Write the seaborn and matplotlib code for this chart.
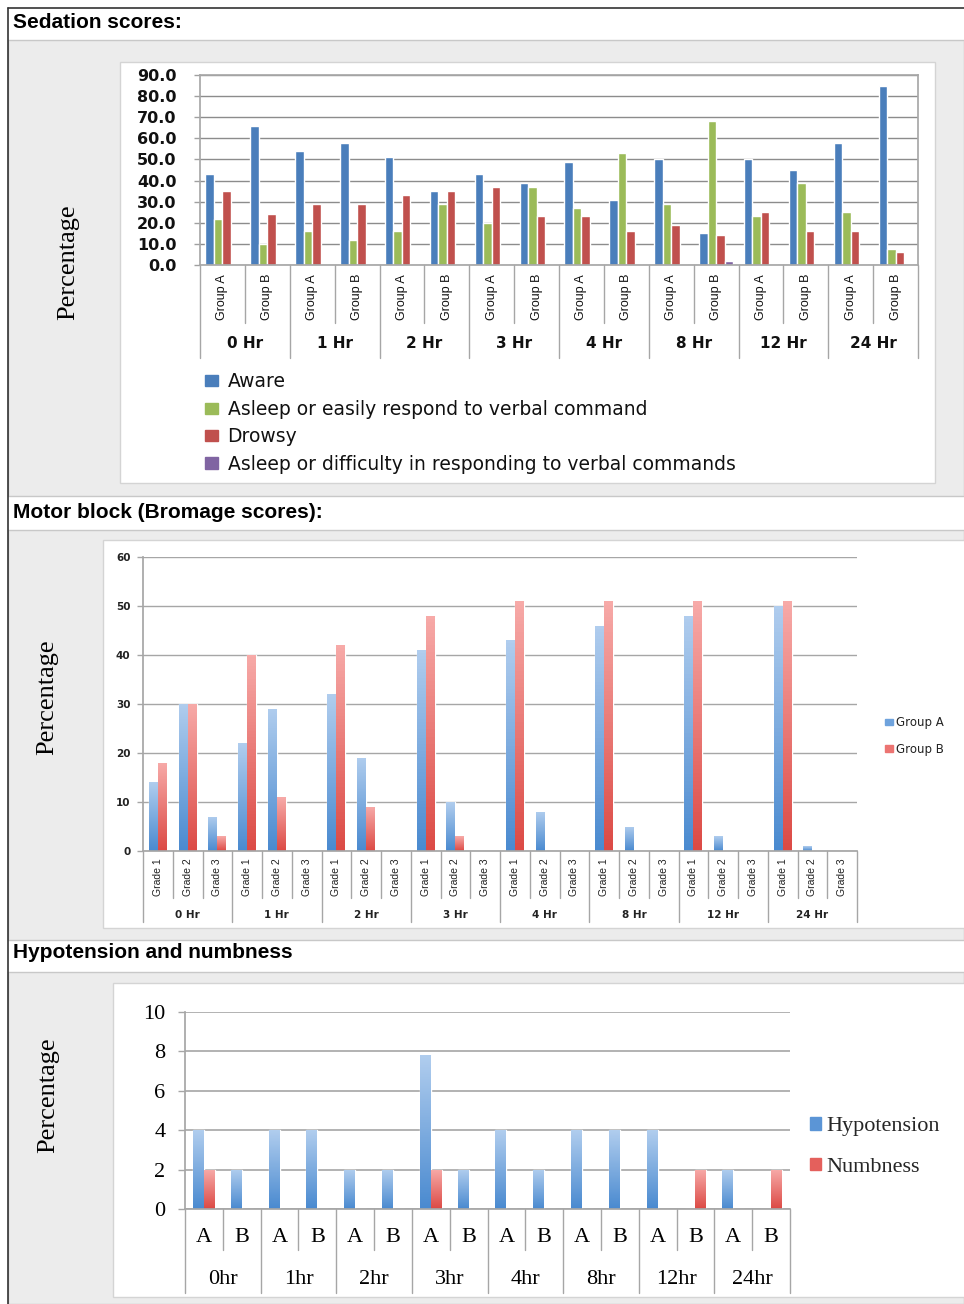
import numpy as np
import pandas as pd
import matplotlib
matplotlib.use("Agg")
import matplotlib.pyplot as plt
import seaborn as sns
from matplotlib.patches import Rectangle
from matplotlib.lines import Line2D
from matplotlib.colors import LinearSegmentedColormap
from matplotlib.transforms import blended_transform_factory

# ---- data ----
sed_times = ['0 Hr', '1 Hr', '2 Hr', '3 Hr', '4 Hr', '8 Hr', '12 Hr', '24 Hr']
sed_groups = ['Group A', 'Group B']
sed_series = ['Aware', 'Asleep or easily respond to verbal command', 'Drowsy',
              'Asleep or difficulty in responding to verbal commands']
aware = [43, 66, 54, 58, 51, 35, 43, 39, 49, 31, 50, 15, 50, 45, 58, 85]
asleep_easy = [22, 10, 16, 12, 16, 29, 20, 37, 27, 53, 29, 68, 23, 39, 25, 7.5]
drowsy = [35, 24, 29, 29, 33, 35, 37, 23, 23, 16, 19, 14, 25, 16, 16, 6]
asleep_diff = [0, 0, 0, 0, 0, 0, 0, 0, 0, 0, 0, 2, 0, 0, 0, 0]

motor_times = ['0 Hr', '1 Hr', '2 Hr', '3 Hr', '4 Hr', '8 Hr', '12 Hr', '24 Hr']
grades = ['Grade 1', 'Grade 2', 'Grade 3']
motor_series = ['Group A', 'Group B']
motor_a = [14, 30, 7, 22, 29, 0, 32, 19, 0, 41, 10, 0, 43, 8, 0, 46, 5, 0, 48, 3, 0, 50, 1, 0]
motor_b = [18, 30, 3, 40, 11, 0, 42, 9, 0, 48, 3, 0, 51, 0, 0, 51, 0, 0, 51, 0, 0, 51, 0, 0]

hn_times = ['0hr', '1hr', '2hr', '3hr', '4hr', '8hr', '12hr', '24hr']
hn_groups = ['A', 'B']
hn_series = ['Hypotension', 'Numbness']
hypotension = [4, 2, 4, 4, 2, 2, 7.8, 2, 4, 2, 4, 4, 4, 0, 2, 0]
numbness = [2, 0, 0, 0, 0, 0, 2, 0, 0, 0, 0, 0, 0, 2, 0, 2]

sns.set_theme(style='white')
plt.rcParams['font.family'] = ['DejaVu Sans']

W, H = 964, 1304
fig = plt.figure(figsize=(W / 100, H / 100), dpi=100)
fig.patch.set_facecolor('white')


def fbox(x0, y0, x1, y1):
    return [x0 / W, 1 - y1 / H, (x1 - x0) / W, (y1 - y0) / H]


def rect(x0, y0, x1, y1, **kw):
    fig.patches.append(Rectangle((x0 / W, 1 - y1 / H), (x1 - x0) / W, (y1 - y0) / H,
                                 transform=fig.transFigure, zorder=-10, **kw))


def ftext(x, y, s, **kw):
    fig.text(x / W, 1 - y / H, s, **kw)


def long_df(cats, names, values):
    rows = []
    for name, vals in zip(names, values):
        for c, v in zip(cats, vals):
            rows.append({'cat': c, 'series': name, 'value': v})
    return pd.DataFrame(rows)


def hier_axis(ax, outer, inner, minor_d, major_d, inner_y, outer_y,
              inner_kw, outer_kw, lc='#a6a6a6'):
    tr = blended_transform_factory(ax.transData, ax.transAxes)
    n = len(outer) * len(inner)
    for k in range(n + 1):
        d = major_d if k % len(inner) == 0 else minor_d
        ax.add_line(Line2D([k - 0.5, k - 0.5], [0, -d], transform=tr, clip_on=False,
                           color=lc, lw=1))
    for k in range(n):
        ax.text(k, -inner_y, inner[k % len(inner)], transform=tr,
                ha='center', va='center', **inner_kw)
    for j, lab in enumerate(outer):
        ax.text(j * len(inner) + (len(inner) - 1) / 2, -outer_y, lab, transform=tr,
                ha='center', va='center', **outer_kw)


def gradient(ax, pairs):
    xl, yl = ax.get_xlim(), ax.get_ylim()
    for cont, (cb, ct) in zip(ax.containers, pairs):
        cmap = LinearSegmentedColormap.from_list('g', [cb, ct])
        for bar in cont:
            h = bar.get_height()
            if h <= 0:
                continue
            x0, w = bar.get_x(), bar.get_width()
            im = ax.imshow(np.linspace(0, 1, 64).reshape(-1, 1), cmap=cmap,
                           extent=(x0, x0 + w, 0, h), origin='lower', aspect='auto',
                           zorder=bar.get_zorder() + 0.1)
            im.set_clip_path(bar)
    ax.set_xlim(xl)
    ax.set_ylim(yl)


# ---- page background ----
rect(8, 40, W, 496, facecolor='#ececec', edgecolor='#c8c8c8', lw=1)
rect(8, 530, W, 940, facecolor='#ececec', edgecolor='#c8c8c8', lw=1)
rect(8, 972, W, H, facecolor='#ececec', edgecolor='#c8c8c8', lw=1)
rect(120, 62, 935, 483, facecolor='white', edgecolor='#d4d4d4', lw=1)
rect(103, 540, W + 2, 928, facecolor='white', edgecolor='#d4d4d4', lw=1)
rect(113, 983, W + 2, 1297, facecolor='white', edgecolor='#d4d4d4', lw=1)
fig.add_artist(Line2D([8 / W, 8 / W], [0, 1 - 8 / H], transform=fig.transFigure, color='#333333', lw=1.2))
fig.add_artist(Line2D([8 / W, 1], [1 - 8 / H, 1 - 8 / H], transform=fig.transFigure, color='#333333', lw=1.2))

title_kw = dict(family=['Liberation Sans', 'DejaVu Sans'], weight='bold', fontsize=15,
                va='center', ha='left', color='black')
ftext(13, 22, 'Sedation scores:', **title_kw)
ftext(13, 513, 'Motor block (Bromage scores):', **title_kw)
ftext(13, 953, 'Hypotension and numbness', **title_kw)

perc_kw = dict(family=['Liberation Serif', 'DejaVu Serif'], fontsize=19, rotation=90,
               va='center', ha='center', color='black')
ftext(68, 262, 'Percentage', **perc_kw)
ftext(47, 697, 'Percentage', **perc_kw)
ftext(48, 1095, 'Percentage', **perc_kw)

# ---- panel 1: sedation ----
ax1 = fig.add_axes(fbox(200, 75, 918, 265))
cats1 = [f'{t} {g}' for t in sed_times for g in sed_groups]
df1 = long_df(cats1, sed_series, [aware, asleep_easy, drowsy, asleep_diff])
sed_colors = ['#4a7ebb', '#9bbb59', '#c0504d', '#8064a2']
sns.barplot(data=df1, x='cat', y='value', hue='series', order=cats1, hue_order=sed_series,
            palette=sed_colors, width=0.76, saturation=1, errorbar=None, legend=False, ax=ax1)
ax1.set_ylim(0, 90)
ax1.set_xlim(-0.5, len(cats1) - 0.5)
ax1.set_yticks(np.arange(0, 91, 10))
ax1.set_yticklabels([f'{v:.1f}' for v in np.arange(0, 91, 10)],
                    fontsize=11.5, weight='bold', color='#111111')
ax1.set_xticks([])
ax1.set_xlabel('')
ax1.set_ylabel('')
ax1.yaxis.grid(True, color='#8c8c8c', lw=1)
ax1.set_axisbelow(True)
ax1.tick_params(axis='y', left=True, length=4, width=1, color='#a0a0a0', pad=13)
for s in ax1.spines.values():
    s.set_color('#a8a8a8')
hier_axis(ax1, sed_times, sed_groups, 58 / 190, 93 / 190, 32 / 190, 79 / 190,
          dict(rotation=90, fontsize=9, family=['Liberation Sans', 'DejaVu Sans'], color='#111111'),
          dict(fontsize=11, weight='bold', color='#111111'))
h1 = [Rectangle((0, 0), 1, 1, color=c) for c in sed_colors]
ax1.legend(h1, sed_series, loc='center left', bbox_to_anchor=(205 / W, 1 - 423 / H),
           bbox_transform=fig.transFigure, frameon=False, fontsize=13.5, borderpad=0,
           borderaxespad=0, handlelength=0.7, handleheight=0.55, handletextpad=0.5,
           labelspacing=0.45, labelcolor='#111111')

# ---- panel 2: motor block ----
ax2 = fig.add_axes(fbox(143, 557, 857, 851))
cats2 = [f'{t} {g}' for t in motor_times for g in grades]
df2 = long_df(cats2, motor_series, [motor_a, motor_b])
sns.barplot(data=df2, x='cat', y='value', hue='series', order=cats2, hue_order=motor_series,
            palette=['#7aaae0', '#ec7d7a'], width=0.6, saturation=1, errorbar=None,
            legend=False, ax=ax2)
ax2.set_ylim(0, 60)
ax2.set_xlim(-0.5, len(cats2) - 0.5)
gradient(ax2, [('#4a8ad0', '#b0cdee'), ('#dc4a45', '#f7aaa8')])
ax2.set_yticks(np.arange(0, 61, 10))
ax2.set_yticklabels([str(v) for v in range(0, 61, 10)], fontsize=7.5, weight='bold', color='#222222')
ax2.set_xticks([])
ax2.set_xlabel('')
ax2.set_ylabel('')
ax2.yaxis.grid(True, color='#a6a6a6', lw=1)
ax2.set_axisbelow(True)
ax2.tick_params(axis='y', left=True, length=4, width=1, color='#a6a6a6', pad=5)
ax2.spines['top'].set_visible(False)
ax2.spines['right'].set_visible(False)
ax2.spines['left'].set_color('#a6a6a6')
ax2.spines['bottom'].set_color('#a6a6a6')
hier_axis(ax2, motor_times, grades, 47 / 294, 71 / 294, 26 / 294, 64 / 294,
          dict(rotation=90, fontsize=7.5, family=['Liberation Sans', 'DejaVu Sans'], color='#222222'),
          dict(fontsize=7.5, weight='bold', color='#222222'))
h2 = [Rectangle((0, 0), 1, 1, color=c) for c in ['#6fa3dd', '#ec7472']]
ax2.legend(h2, motor_series, loc='center left', bbox_to_anchor=(885 / W, 1 - 736 / H),
           bbox_transform=fig.transFigure, frameon=False, fontsize=8.5, borderpad=0,
           borderaxespad=0, handlelength=0.65, handleheight=0.5, handletextpad=0.3,
           labelspacing=1.15, labelcolor='#222222')

# ---- panel 3: hypotension and numbness ----
ax3 = fig.add_axes(fbox(185, 1012, 790, 1209))
cats3 = [f'{t} {g}' for t in hn_times for g in hn_groups]
df3 = long_df(cats3, hn_series, [hypotension, numbness])
sns.barplot(data=df3, x='cat', y='value', hue='series', order=cats3, hue_order=hn_series,
            palette=['#7aaae0', '#ec7d7a'], width=0.58, saturation=1, errorbar=None,
            legend=False, ax=ax3)
ax3.set_ylim(0, 10)
ax3.set_xlim(-0.5, len(cats3) - 0.5)
gradient(ax3, [('#4a8ad0', '#b0cdee'), ('#dc4a45', '#f7aaa8')])
serif = ['Liberation Serif', 'DejaVu Serif']
ax3.set_yticks(np.arange(0, 11, 2))
ax3.set_yticklabels([str(v) for v in range(0, 11, 2)], fontsize=16, family=serif, color='black')
ax3.set_xticks([])
ax3.set_xlabel('')
ax3.set_ylabel('')
ax3.yaxis.grid(True, color='#a6a6a6', lw=1.2)
ax3.set_axisbelow(True)
ax3.tick_params(axis='y', left=True, length=5, width=1, color='#a6a6a6', pad=9)
ax3.spines['top'].set_visible(False)
ax3.spines['right'].set_visible(False)
ax3.spines['left'].set_color('#a6a6a6')
ax3.spines['bottom'].set_color('#a6a6a6')
hier_axis(ax3, hn_times, hn_groups, 41 / 197, 84 / 197, 29 / 197, 71 / 197,
          dict(fontsize=16, family=serif, color='black'),
          dict(fontsize=16, family=serif, color='black'))
h3 = [Rectangle((0, 0), 1, 1, color=c) for c in ['#5b95d6', '#e4605c']]
ax3.legend(h3, hn_series, loc='center left', bbox_to_anchor=(810 / W, 1 - 1147 / H),
           bbox_transform=fig.transFigure, frameon=False, prop={'family': serif, 'size': 16},
           borderpad=0, borderaxespad=0, handlelength=0.5, handleheight=0.5,
           handletextpad=0.25, labelspacing=0.95)

fig.savefig('out.png', dpi=100)
